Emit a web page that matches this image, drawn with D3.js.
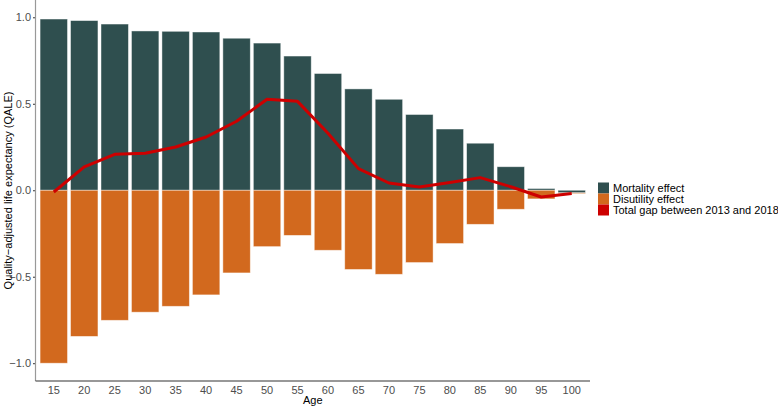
<!DOCTYPE html>
<html>
<head>
<meta charset="utf-8">
<script src="https://cdn.jsdelivr.net/npm/d3@7"></script>
<style>
  body { margin: 0; background: #fff; }
  text { font-family: "Liberation Sans", Arial, sans-serif; }
</style>
</head>
<body>
<div id="chart"></div>
<script>
// values
var ages = ["15","20","25","30","35","40","45","50","55","60","65","70","75","80","85","90","95","100"];
var mortality = [0.99, 0.981, 0.961, 0.921, 0.919, 0.915, 0.879, 0.851, 0.776, 0.675, 0.586, 0.526, 0.438, 0.354, 0.272, 0.136, 0.01, -0.015];
var disutility = [-1.0, -0.845, -0.752, -0.705, -0.671, -0.605, -0.478, -0.326, -0.261, -0.347, -0.458, -0.486, -0.418, -0.308, -0.197, -0.110, -0.05, -0.005];
var totalGap = [-0.01, 0.135, 0.208, 0.214, 0.25, 0.308, 0.399, 0.526, 0.514, 0.33, 0.125, 0.042, 0.019, 0.045, 0.073, 0.02, -0.039, -0.019];
var yTicks = [-1.0, -0.5, 0.0, 0.5, 1.0];
var legendLabels = ["Mortality effect", "Disutility effect", "Total gap between 2013 and 2018"];
var colors = ["#2F4F4F", "#D2691E", "#CD0000"];

var svgWidth = 778;
var svgHeight = 406;
var panel = { left: 35.5, right: 590, top: 0, bottom: 381 };

var svg = d3.select("#chart")
  .append("svg")
  .attr("width", svgWidth)
  .attr("height", svgHeight);

var xScale = d3.scaleBand()
  .domain(ages)
  .range([panel.left, panel.right])
  .paddingInner(0.1)
  .paddingOuter(0.15);

var yScale = d3.scaleLinear()
  .domain([-1.1, 1.1])
  .range([380.5, 0]);

// stack: mortality next to zero, disutility beyond it on the same side
var bars = [];
ages.forEach(function(a, i) {
  var pos = 0, neg = 0;
  [mortality[i], disutility[i]].forEach(function(v, k) {
    var y0, y1;
    if (v >= 0) { y0 = pos; y1 = pos + v; pos = y1; }
    else { y0 = neg; y1 = neg + v; neg = y1; }
    bars.push({ age: a, y0: y0, y1: y1, k: k });
  });
});

svg.append("g").selectAll("rect")
  .data(bars)
  .enter()
  .append("rect")
  .attr("x", d => xScale(d.age))
  .attr("width", xScale.bandwidth())
  .attr("y", d => yScale(Math.max(d.y0, d.y1)))
  .attr("height", d => Math.abs(yScale(d.y0) - yScale(d.y1)))
  .attr("fill", d => colors[d.k])
  .attr("stroke", "#ffffff")
  .attr("stroke-opacity", 0.55)
  .attr("stroke-width", 0.8);

// total gap line
var line = d3.line()
  .x((d, i) => xScale(ages[i]) + xScale.bandwidth() / 2)
  .y(d => yScale(d));

svg.append("path")
  .datum(totalGap)
  .attr("d", line)
  .attr("fill", "none")
  .attr("stroke", colors[2])
  .attr("stroke-width", 3)
  .attr("stroke-linejoin", "round");

// axes
var leftAxis = d3.axisLeft(yScale)
  .tickValues(yTicks)
  .tickFormat(d => d3.format(".1f")(d).replace("-", "\u2212"))
  .tickSize(2.5)
  .tickPadding(2);

var gy = svg.append("g")
  .attr("transform", `translate(${panel.left}, 0)`)
  .call(leftAxis);
gy.select(".domain").remove();
gy.selectAll(".tick line").attr("stroke", "#333");
gy.selectAll("text").attr("fill", "#4d4d4d").style("font-size", "11px");

svg.append("line")
  .attr("x1", panel.left).attr("x2", panel.left)
  .attr("y1", panel.top).attr("y2", panel.bottom)
  .attr("stroke", "#999").attr("stroke-width", 1.2);

var bottomAxis = d3.axisBottom(xScale)
  .tickSize(0)
  .tickPadding(5);

var gx = svg.append("g")
  .attr("transform", `translate(0, ${panel.bottom})`)
  .call(bottomAxis);
gx.select(".domain").remove();
gx.selectAll("text").attr("fill", "#4d4d4d").style("font-size", "11px");

svg.append("line")
  .attr("x1", panel.left).attr("x2", panel.right)
  .attr("y1", panel.bottom).attr("y2", panel.bottom)
  .attr("stroke", "#333").attr("stroke-width", 1.1);

// axis titles
svg.append("text")
  .attr("x", (panel.left + panel.right) / 2)
  .attr("y", 404)
  .attr("text-anchor", "middle")
  .style("font-size", "11px")
  .text("Age");

svg.append("text")
  .attr("transform", `translate(12, ${(panel.top + panel.bottom) / 2}) rotate(-90)`)
  .attr("text-anchor", "middle")
  .style("font-size", "11px")
  .text("Quality\u2212adjusted life expectancy (QALE)");

// legend
var legend = svg.append("g")
  .attr("transform", "translate(598, 182.5)");

legendLabels.forEach(function(lab, i) {
  legend.append("rect")
    .attr("x", 0)
    .attr("y", i * 11)
    .attr("width", 11)
    .attr("height", 11)
    .attr("fill", colors[i]);
  legend.append("text")
    .attr("x", 15)
    .attr("y", i * 11 + 9.5)
    .style("font-size", "11px")
    .text(lab);
});
</script>
</body>
</html>
